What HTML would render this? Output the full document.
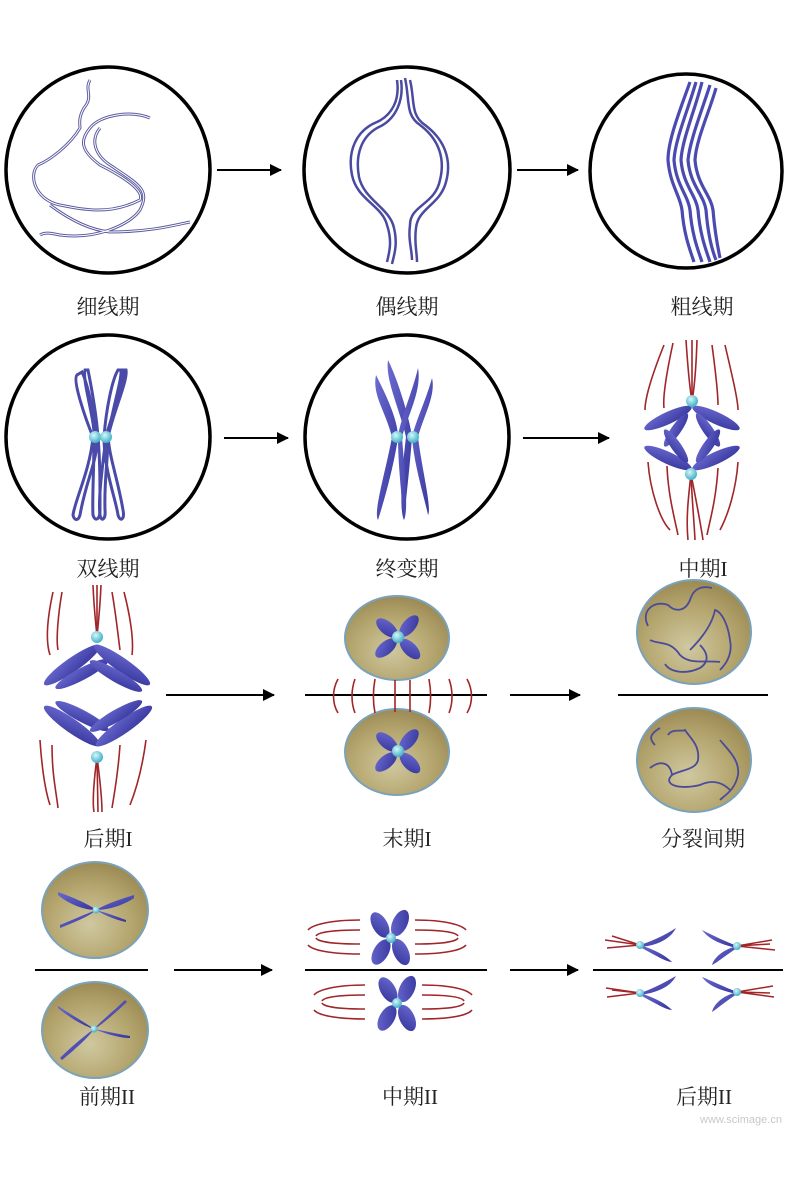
<!DOCTYPE html>
<html><head><meta charset="utf-8"><style>
html,body{margin:0;padding:0;background:#fff}
svg{display:block}
text{font-family:"Liberation Serif","Noto Serif CJK SC",serif;font-size:21px;fill:#222;text-anchor:middle}
</style></head><body>
<svg width="800" height="1178" viewBox="0 0 800 1178" xmlns="http://www.w3.org/2000/svg">
<defs>
<marker id="ah" markerWidth="12" markerHeight="12" refX="11" refY="6" orient="auto" markerUnits="userSpaceOnUse"><path d="M0,0 L12,6 L0,12 z" fill="#000"/></marker>
<radialGradient id="cell" cx="45%" cy="65%" r="65%"><stop offset="0" stop-color="#cfc8a0"/><stop offset="0.6" stop-color="#b5a66f"/><stop offset="1" stop-color="#9c8a55"/></radialGradient>
<radialGradient id="cen" cx="40%" cy="35%" r="60%"><stop offset="0" stop-color="#d6f7fb"/><stop offset="1" stop-color="#4bb5c8"/></radialGradient>
<linearGradient id="arm" x1="0" y1="0" x2="1" y2="1"><stop offset="0" stop-color="#6a6ad0"/><stop offset="1" stop-color="#34349a"/></linearGradient>
</defs>

<!-- circles -->
<g fill="none" stroke="#000" stroke-width="3.5">
<ellipse cx="108" cy="170" rx="102" ry="103"/>
<ellipse cx="407" cy="170" rx="103" ry="103"/>
<ellipse cx="686" cy="171" rx="96" ry="97"/>
<ellipse cx="108" cy="437" rx="102" ry="102"/>
<ellipse cx="407" cy="437" rx="102" ry="102"/>
</g>
<!-- arrows -->
<g stroke="#000" stroke-width="2" marker-end="url(#ah)">
<line x1="217" y1="170" x2="281" y2="170"/>
<line x1="517" y1="170" x2="578" y2="170"/>
<line x1="224" y1="438" x2="288" y2="438"/>
<line x1="523" y1="438" x2="609" y2="438"/>
<line x1="166" y1="695" x2="274" y2="695"/>
<line x1="510" y1="695" x2="580" y2="695"/>
<line x1="174" y1="970" x2="272" y2="970"/>
<line x1="510" y1="970" x2="578" y2="970"/>
</g>

<!-- leptotene -->
<g fill="none" stroke="#5c5ca0" stroke-width="3">
<path d="M90 80 C84 90 94 96 84 108 C78 118 80 125 80 128 C70 145 50 160 38 165 C28 175 35 200 60 205 C85 210 110 215 140 200 C145 190 120 175 100 165 C80 150 80 140 90 128 C100 115 130 110 150 118"/>
<path d="M100 128 C90 140 95 155 110 165 C140 185 150 190 140 210 C130 225 95 240 60 235 C50 233 45 232 40 235"/>
<path d="M50 205 C70 220 90 230 110 232 C150 232 175 225 190 222"/>
</g>
<g fill="none" stroke="#fff" stroke-width="1">
<path d="M90 80 C84 90 94 96 84 108 C78 118 80 125 80 128 C70 145 50 160 38 165 C28 175 35 200 60 205 C85 210 110 215 140 200 C145 190 120 175 100 165 C80 150 80 140 90 128 C100 115 130 110 150 118"/>
<path d="M100 128 C90 140 95 155 110 165 C140 185 150 190 140 210 C130 225 95 240 60 235 C50 233 45 232 40 235"/>
<path d="M50 205 C70 220 90 230 110 232 C150 232 175 225 190 222"/>
</g>

<!-- zygotene -->
<g fill="none" stroke="#4a4aa0" stroke-width="2.5">
<path d="M397 80 C400 100 392 115 377 122 C357 130 347 150 352 175 C357 200 382 205 387 225 C392 240 390 250 387 262"/>
<path d="M401 80 C404 100 396 118 381 126 C361 135 355 155 359 177 C364 200 390 208 394 228 C398 245 394 255 392 264"/>
<path d="M405 78 C410 100 405 115 420 125 C440 140 445 160 440 180 C435 205 410 205 410 225 C408 240 412 250 412 260"/>
<path d="M410 80 C415 100 410 115 425 125 C445 140 452 160 446 182 C440 205 418 208 416 228 C414 242 417 252 417 262"/>
</g>

<!-- pachytene -->
<g fill="none" stroke="#4a4ab0" stroke-width="3.2">
<path d="M690 82 C680 110 668 140 668 160 C670 185 680 195 682 210 C684 235 690 250 694 262"/>
<path d="M696 82 C688 110 675 140 674 160 C676 185 688 195 690 210 C692 235 698 250 702 262"/>
<path d="M702 82 C695 110 682 140 681 160 C683 185 696 195 698 210 C700 235 706 250 710 262"/>
<path d="M710 85 C702 110 690 140 688 160 C690 185 704 195 706 210 C708 235 712 250 716 260"/>
<path d="M716 88 C710 110 696 140 695 160 C697 185 711 195 713 210 C715 235 718 248 720 258"/>
</g>

<!-- diplotene -->
<g fill="none" stroke="#4a4aa8" stroke-width="3">
<path d="M77 375 C72 380 86 420 93 437 C90 470 75 500 73 515 C74 520 78 522 80 515 C86 480 98 460 97 437 C94 410 86 380 82 372 Z"/>
<path d="M85 370 C82 380 95 420 94 437 C94 470 92 500 93 515 C95 522 100 520 100 510 C100 480 100 460 98 437 C96 410 90 380 88 370 Z"/>
<path d="M123 370 C126 380 110 420 106 437 C102 470 98 500 100 515 C101 522 106 520 105 510 C104 480 108 460 108 437 C114 410 128 380 126 370 Z"/>
<path d="M118 370 C112 380 106 410 104 437 C104 470 116 500 118 515 C120 522 125 520 123 510 C118 480 110 460 108 437 C112 410 122 380 121 370 Z"/>
</g>
<circle cx="95" cy="437" r="6" fill="url(#cen)"/>
<circle cx="106" cy="437" r="6" fill="url(#cen)"/>

<!-- diakinesis -->
<g fill="url(#arm)">
<path d="M376 375 C386 395 398 420 398 437 C395 460 386 495 378 520 C373 512 386 470 392 437 C385 410 372 395 376 375Z"/>
<path d="M388 360 C398 380 410 420 412 437 C410 465 406 500 404 520 C399 510 402 470 406 437 C400 410 385 380 388 360Z"/>
<path d="M418 368 C413 390 400 420 398 437 C398 465 402 500 404 520 C409 510 404 465 402 437 C408 415 422 390 418 368Z"/>
<path d="M432 378 C426 400 416 420 412 437 C414 465 425 500 428 515 C432 508 422 470 418 437 C424 415 436 395 432 378Z"/>
</g>
<circle cx="397" cy="437" r="6" fill="url(#cen)"/>
<circle cx="413" cy="437" r="6" fill="url(#cen)"/>

<!-- metaphase I -->
<g fill="none" stroke="#a0262a" stroke-width="1.6">
<path d="M664 345 C650 380 645 400 645 410"/><path d="M673 343 C665 380 663 400 664 408"/>
<path d="M686 340 C688 370 690 390 692 401"/><path d="M692 340 L692 401"/><path d="M697 340 C696 370 694 390 692 401"/>
<path d="M712 345 C716 375 718 395 718 405"/><path d="M725 345 C732 375 738 400 738 410"/>
<path d="M648 462 C650 490 660 520 670 530"/><path d="M667 466 C668 495 675 520 678 535"/>
<path d="M691 474 C688 500 686 520 688 540"/><path d="M691 474 C692 500 694 520 695 540"/><path d="M691 474 C696 500 700 520 703 540"/>
<path d="M718 468 C716 500 710 520 707 535"/><path d="M738 462 C736 490 728 515 720 530"/>
</g>
<g fill="url(#arm)">
<ellipse cx="668" cy="418" rx="26" ry="6" transform="rotate(-25 668 418)"/>
<ellipse cx="676" cy="430" rx="20" ry="5" transform="rotate(-55 676 430)"/>
<ellipse cx="716" cy="418" rx="26" ry="6" transform="rotate(25 716 418)"/>
<ellipse cx="708" cy="430" rx="20" ry="5" transform="rotate(55 708 430)"/>
<ellipse cx="668" cy="458" rx="26" ry="6" transform="rotate(25 668 458)"/>
<ellipse cx="676" cy="446" rx="20" ry="5" transform="rotate(55 676 446)"/>
<ellipse cx="716" cy="458" rx="26" ry="6" transform="rotate(-25 716 458)"/>
<ellipse cx="708" cy="446" rx="20" ry="5" transform="rotate(-55 708 446)"/>
</g>
<circle cx="692" cy="401" r="6" fill="url(#cen)"/>
<circle cx="691" cy="474" r="6" fill="url(#cen)"/>

<!-- anaphase I -->
<g fill="none" stroke="#a0262a" stroke-width="1.6">
<path d="M53 592 C48 615 45 640 50 655"/><path d="M62 592 C58 615 56 640 58 650"/>
<path d="M93 585 C94 610 96 625 97 637"/><path d="M97 585 L97 637"/><path d="M101 585 C100 610 98 625 97 637"/>
<path d="M112 592 C116 615 118 635 120 650"/><path d="M124 592 C130 615 134 640 132 655"/>
<path d="M40 740 C42 770 45 790 50 805"/><path d="M52 745 C52 775 56 790 58 808"/>
<path d="M97 757 C94 780 92 800 94 812"/><path d="M97 757 L98 812"/><path d="M97 757 C100 780 102 800 102 812"/>
<path d="M120 745 C118 775 114 795 112 808"/><path d="M146 740 C142 770 136 790 130 805"/>
</g>
<g fill="url(#arm)">
<ellipse cx="72" cy="665" rx="34" ry="7" transform="rotate(-35 72 665)"/>
<ellipse cx="82" cy="674" rx="30" ry="6" transform="rotate(-28 82 674)"/>
<ellipse cx="122" cy="665" rx="34" ry="7" transform="rotate(35 122 665)"/>
<ellipse cx="116" cy="676" rx="30" ry="6" transform="rotate(30 116 676)"/>
<ellipse cx="72" cy="726" rx="34" ry="7" transform="rotate(35 72 726)"/>
<ellipse cx="82" cy="716" rx="30" ry="6" transform="rotate(28 82 716)"/>
<ellipse cx="124" cy="726" rx="34" ry="7" transform="rotate(-35 124 726)"/>
<ellipse cx="116" cy="716" rx="30" ry="6" transform="rotate(-30 116 716)"/>
</g>
<circle cx="97" cy="637" r="6" fill="url(#cen)"/>
<circle cx="97" cy="757" r="6" fill="url(#cen)"/>

<!-- cells -->
<g fill="url(#cell)" stroke="#7aa2b8" stroke-width="2">
<ellipse cx="397" cy="638" rx="52" ry="42"/>
<ellipse cx="397" cy="752" rx="52" ry="43"/>
<ellipse cx="694" cy="632" rx="57" ry="52"/>
<ellipse cx="694" cy="760" rx="57" ry="52"/>
<ellipse cx="95" cy="910" rx="53" ry="48"/>
<ellipse cx="95" cy="1030" rx="53" ry="48"/>
</g>
<g stroke="#000" stroke-width="2">
<line x1="305" y1="695" x2="487" y2="695"/>
<line x1="618" y1="695" x2="768" y2="695"/>
<line x1="35" y1="970" x2="148" y2="970"/>
<line x1="305" y1="970" x2="487" y2="970"/>
<line x1="593" y1="970" x2="783" y2="970"/>
</g>

<!-- telophase I -->
<g fill="none" stroke="#a0262a" stroke-width="1.6">
<path d="M338 679 C332 690 332 703 338 713"/>
<path d="M355 679 C351 690 351 703 355 713"/>
<path d="M375 679 C373 690 373 703 375 713"/>
<path d="M395 680 L395 712"/>
<path d="M410 680 L410 712"/>
<path d="M429 679 C431 690 431 703 429 713"/>
<path d="M449 679 C453 690 453 703 449 713"/>
<path d="M467 679 C473 690 473 703 467 713"/>
</g>
<g fill="url(#arm)">
<ellipse cx="387" cy="628" rx="13" ry="6.5" transform="rotate(40 387 628)"/>
<ellipse cx="409" cy="626" rx="13" ry="6.5" transform="rotate(-50 409 626)"/>
<ellipse cx="386" cy="648" rx="13" ry="6.5" transform="rotate(-40 386 648)"/>
<ellipse cx="410" cy="649" rx="13" ry="6.5" transform="rotate(45 410 649)"/>
<ellipse cx="387" cy="742" rx="13" ry="6.5" transform="rotate(40 387 742)"/>
<ellipse cx="409" cy="740" rx="13" ry="6.5" transform="rotate(-50 409 740)"/>
<ellipse cx="386" cy="762" rx="13" ry="6.5" transform="rotate(-40 386 762)"/>
<ellipse cx="410" cy="763" rx="13" ry="6.5" transform="rotate(45 410 763)"/>
</g>
<circle cx="398" cy="637" r="6" fill="url(#cen)"/>
<circle cx="398" cy="751" r="6" fill="url(#cen)"/>

<!-- interkinesis -->
<g fill="none" stroke="#4a4a9a" stroke-width="1.8">
<path d="M648 626 C640 610 655 600 668 605 C675 612 685 612 690 600 C693 590 700 585 712 588"/>
<path d="M650 640 C660 645 670 640 680 655 C690 665 705 660 720 662"/>
<path d="M690 650 C700 640 712 625 715 610 C722 612 728 625 730 640 C733 655 725 665 720 670"/>
<path d="M665 664 C670 672 685 675 700 668 C712 660 705 650 700 645"/>
<path d="M655 745 C650 740 648 735 660 728"/>
<path d="M668 735 C672 728 682 732 685 730 C690 738 700 745 698 760 C696 770 680 770 672 775 C662 785 680 790 700 785 C715 778 725 785 730 790"/>
<path d="M720 740 C728 750 740 760 738 775 C735 790 725 795 720 800"/>
<path d="M650 768 C660 760 670 762 672 775"/>
</g>

<!-- prophase II -->
<g fill="url(#arm)">
<path d="M58 892 C75 898 90 905 96 910 C85 910 70 905 58 895Z"/>
<path d="M134 895 C118 900 104 905 96 910 C108 910 124 905 134 898Z"/>
<path d="M60 925 C72 920 86 914 96 910 C90 916 75 922 60 928Z"/>
<path d="M126 920 C115 916 104 912 96 910 C104 915 116 920 126 922Z"/>
<path d="M125 1000 C115 1010 102 1020 94 1029 C102 1025 116 1012 127 1002Z"/>
<path d="M58 1006 C70 1014 84 1022 94 1029 C84 1026 70 1018 58 1008Z"/>
<path d="M60 1058 C70 1048 84 1036 94 1029 C88 1038 74 1050 62 1060Z"/>
<path d="M130 1036 C118 1034 104 1031 94 1029 C104 1033 118 1038 130 1038Z"/>
</g>
<circle cx="96" cy="910" r="3.5" fill="url(#cen)"/>
<circle cx="94" cy="1029" r="3.5" fill="url(#cen)"/>

<!-- metaphase II -->
<g fill="none" stroke="#a0262a" stroke-width="1.6">
<path d="M360 920 C330 920 312 925 308 930"/><path d="M360 930 C335 930 318 932 316 936"/>
<path d="M360 944 C335 944 318 942 316 938"/><path d="M360 954 C330 954 312 950 308 945"/>
<path d="M415 920 C445 920 462 925 466 930"/><path d="M415 930 C440 930 456 932 458 936"/>
<path d="M415 944 C440 944 456 942 458 938"/><path d="M415 954 C445 954 462 950 466 945"/>
<path d="M365 985 C335 985 318 990 314 995"/><path d="M365 995 C340 995 324 997 322 1001"/>
<path d="M365 1009 C340 1009 324 1007 322 1003"/><path d="M365 1019 C335 1019 318 1015 314 1010"/>
<path d="M422 985 C452 985 468 990 472 995"/><path d="M422 995 C447 995 462 997 464 1001"/>
<path d="M422 1009 C447 1009 462 1007 464 1003"/><path d="M422 1019 C452 1019 468 1015 472 1010"/>
</g>
<g fill="url(#arm)">
<ellipse cx="380" cy="925" rx="14" ry="7.5" transform="rotate(60 380 925)"/>
<ellipse cx="400" cy="923" rx="14" ry="7.5" transform="rotate(-65 400 923)"/>
<ellipse cx="381" cy="952" rx="14" ry="7.5" transform="rotate(-60 381 952)"/>
<ellipse cx="401" cy="952" rx="14" ry="7.5" transform="rotate(65 401 952)"/>
<ellipse cx="388" cy="990" rx="14" ry="7.5" transform="rotate(60 388 990)"/>
<ellipse cx="407" cy="989" rx="14" ry="7.5" transform="rotate(-65 407 989)"/>
<ellipse cx="387" cy="1018" rx="14" ry="7.5" transform="rotate(-60 387 1018)"/>
<ellipse cx="407" cy="1018" rx="14" ry="7.5" transform="rotate(65 407 1018)"/>
</g>
<circle cx="391" cy="938" r="5" fill="url(#cen)"/>
<circle cx="397" cy="1003" r="5" fill="url(#cen)"/>

<!-- anaphase II -->
<g fill="none" stroke="#a0262a" stroke-width="1.5">
<path d="M640 945 L605 940 M640 945 L607 948 M640 945 L612 936"/>
<path d="M737 946 L772 940 M737 946 L775 950 M737 946 L770 944"/>
<path d="M640 993 L606 988 M640 993 L607 997 M640 993 L612 990"/>
<path d="M737 992 L773 986 M737 992 L774 997 M737 992 L770 993"/>
</g>
<g fill="url(#arm)">
<path d="M640 945 C655 940 665 935 676 928 C672 936 662 945 640 947Z"/>
<path d="M640 945 C655 950 665 955 672 962 C666 962 655 955 640 947Z"/>
<path d="M737 946 C722 940 712 935 702 930 C708 938 718 944 737 948Z"/>
<path d="M737 946 C722 950 714 958 712 965 C718 962 726 955 737 948Z"/>
<path d="M640 993 C655 988 665 982 676 976 C672 984 662 992 640 995Z"/>
<path d="M640 993 C655 998 665 1003 672 1010 C666 1010 655 1003 640 995Z"/>
<path d="M737 992 C722 986 712 981 702 977 C708 985 718 990 737 994Z"/>
<path d="M737 992 C722 996 714 1004 712 1012 C718 1008 726 1001 737 994Z"/>
</g>
<circle cx="640" cy="945" r="4" fill="url(#cen)"/>
<circle cx="737" cy="946" r="4" fill="url(#cen)"/>
<circle cx="640" cy="993" r="4" fill="url(#cen)"/>
<circle cx="737" cy="992" r="4" fill="url(#cen)"/>

<!-- labels -->
<text x="108" y="314">细线期</text>
<text x="407" y="314">偶线期</text>
<text x="702" y="314">粗线期</text>
<text x="108" y="576">双线期</text>
<text x="407" y="576">终变期</text>
<text x="703" y="576">中期I</text>
<text x="108" y="846">后期I</text>
<text x="407" y="846">末期I</text>
<text x="703" y="846">分裂间期</text>
<text x="107" y="1104">前期II</text>
<text x="410" y="1104">中期II</text>
<text x="704" y="1104">后期II</text>
<text x="741" y="1123" style="font-size:11px;fill:#c8c8c8;font-family:'Liberation Sans',sans-serif">www.scimage.cn</text>
</svg>
</body></html>
